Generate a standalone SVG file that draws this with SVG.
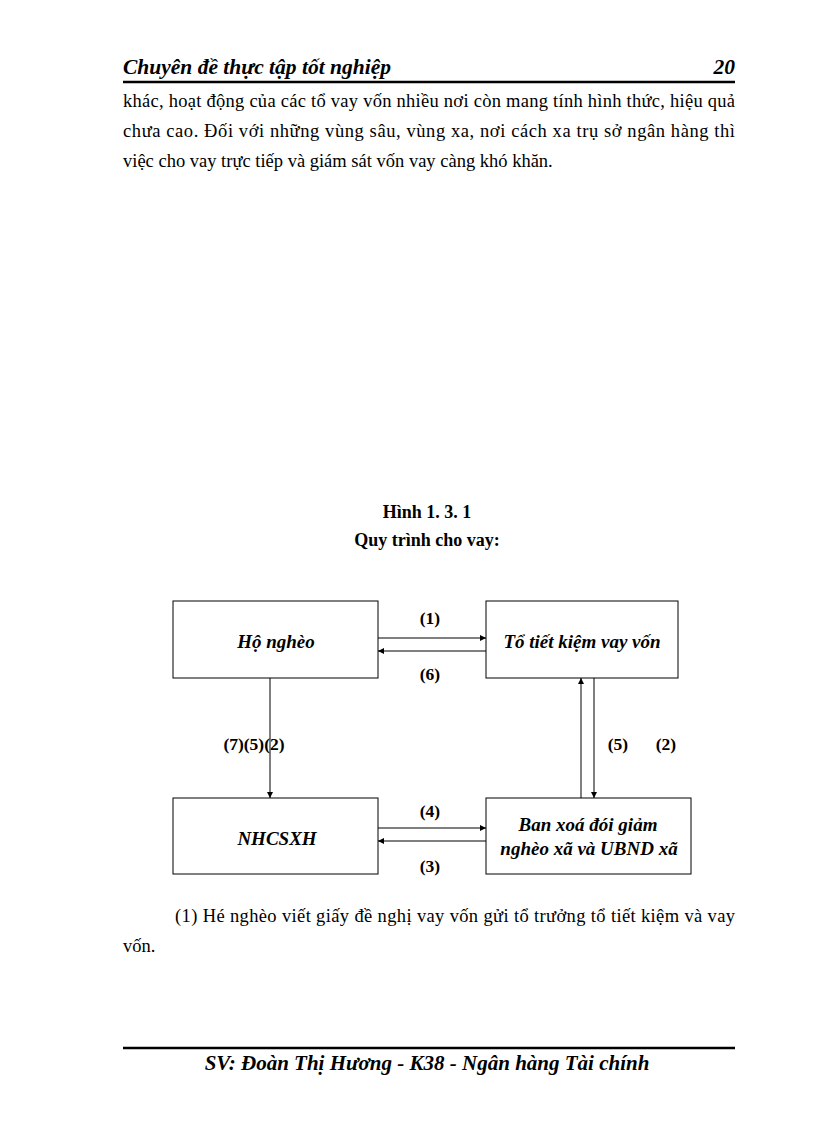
<svg xmlns="http://www.w3.org/2000/svg" width="816" height="1123" viewBox="0 0 816 1123">
<style>
text{font-family:"Liberation Serif","Times New Roman",serif;fill:#000}
.hd{font-size:21.5px;font-weight:bold;font-style:italic}
.ft{font-size:21px;font-weight:bold;font-style:italic}
.bd{font-size:18.5px}
.tt{font-size:18px;font-weight:bold}
.nd{font-size:19px;font-weight:bold;font-style:italic}
.lb{font-size:17.5px;font-weight:bold}
.box{fill:#fff;stroke:#000;stroke-width:1}
.ln{stroke:#000;stroke-width:1;fill:none}
</style>
<defs>
<marker id="ah" viewBox="0 0 10 10" refX="10" refY="5" markerWidth="8" markerHeight="6" orient="auto" markerUnits="userSpaceOnUse">
<path d="M0,0 L10,5 L0,10 z" fill="#000"/>
</marker>
</defs>
<rect width="816" height="1123" fill="#fff"/>
<g id="header">
<text class="hd" x="123" y="74">Chuyên đề thực tập tốt nghiệp</text>
<text class="hd" x="735" y="74" text-anchor="end">20</text>
<line x1="123" y1="82" x2="735" y2="82" stroke="#000" stroke-width="2.5"/>
</g>
<g id="body">
<text class="bd" x="123" y="107" textLength="612" lengthAdjust="spacing">khác, hoạt động của các tổ vay vốn nhiều nơi còn mang tính hình thức, hiệu quả</text>
<text class="bd" x="123" y="137" textLength="612" lengthAdjust="spacing">chưa cao. Đối với những vùng sâu, vùng xa, nơi cách xa trụ sở ngân hàng thì</text>
<text class="bd" x="123" y="167">việc cho vay trực tiếp và giám sát vốn vay càng khó khăn.</text>
</g>
<g id="title">
<text class="tt" x="427" y="518" text-anchor="middle">Hình 1. 3. 1</text>
<text class="tt" x="427" y="546" text-anchor="middle">Quy trình cho vay:</text>
</g>
<g id="node-ho-ngheo">
<rect class="box" x="173" y="601" width="205" height="77"/>
<text class="nd" x="276" y="648" text-anchor="middle">Hộ nghèo</text>
</g>
<g id="node-to-tiet-kiem">
<rect class="box" x="486" y="601" width="192" height="77"/>
<text class="nd" x="582" y="648" text-anchor="middle">Tổ tiết kiệm vay vốn</text>
</g>
<g id="node-nhcsxh">
<rect class="box" x="173" y="798" width="205" height="76"/>
<text class="nd" x="277" y="845" text-anchor="middle">NHCSXH</text>
</g>
<g id="node-ban-xoa-doi">
<rect class="box" x="486" y="798" width="205" height="76"/>
<text class="nd" x="588" y="831" text-anchor="middle">Ban xoá đói giảm</text>
<text class="nd" x="589" y="855" text-anchor="middle">nghèo xã và UBND xã</text>
</g>
<g id="connectors">
<line class="ln" x1="378" y1="638" x2="486" y2="638" marker-end="url(#ah)"/>
<line class="ln" x1="486" y1="651" x2="378" y2="651" marker-end="url(#ah)"/>
<line class="ln" x1="270" y1="678" x2="270" y2="798" marker-end="url(#ah)"/>
<line class="ln" x1="581" y1="798" x2="581" y2="678" marker-end="url(#ah)"/>
<line class="ln" x1="594" y1="678" x2="594" y2="798" marker-end="url(#ah)"/>
<line class="ln" x1="378" y1="828" x2="486" y2="828" marker-end="url(#ah)"/>
<line class="ln" x1="486" y1="841" x2="378" y2="841" marker-end="url(#ah)"/>
<text class="lb" x="430" y="624" text-anchor="middle">(1)</text>
<text class="lb" x="430" y="680" text-anchor="middle">(6)</text>
<text class="lb" x="254" y="750" text-anchor="middle">(7)(5)(2)</text>
<text class="lb" x="618" y="750" text-anchor="middle">(5)</text>
<text class="lb" x="666" y="750" text-anchor="middle">(2)</text>
<text class="lb" x="430" y="817" text-anchor="middle">(4)</text>
<text class="lb" x="430" y="872" text-anchor="middle">(3)</text>
</g>
<g id="note">
<text class="bd" x="175" y="922" textLength="560" lengthAdjust="spacing">(1) Hé nghèo viết giấy đề nghị vay vốn gửi tổ trưởng tổ tiết kiệm và vay</text>
<text class="bd" x="123" y="952">vốn.</text>
</g>
<g id="footer">
<line x1="123" y1="1048" x2="735" y2="1048" stroke="#000" stroke-width="2.5"/>
<text class="ft" x="427" y="1070" text-anchor="middle">SV: Đoàn Thị Hương - K38 - Ngân hàng Tài chính</text>
</g>
</svg>
